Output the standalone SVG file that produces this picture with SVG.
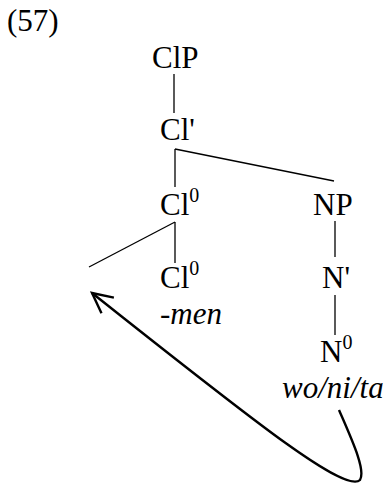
<svg xmlns="http://www.w3.org/2000/svg" width="386" height="485" viewBox="0 0 386 485">
<style>
text{font-family:'Liberation Serif','Times New Roman',serif;font-size:31px;fill:#000}
.it{font-style:italic}
.sup{font-size:20px}
.e{stroke:#000;stroke-width:1.3;fill:none}
</style>
<defs>
<marker id="ah" markerWidth="26" markerHeight="26" refX="22" refY="12" orient="auto" markerUnits="userSpaceOnUse">
<path d="M2,2 L22,12 L2,22" fill="none" stroke="#000" stroke-width="2.4"/>
</marker>
</defs>
<rect width="386" height="485" fill="#fff"/>
<text x="7" y="31">(57)</text>
<g id="n-clp"><text x="152" y="68">ClP</text></g>
<g id="n-clbar"><text x="160" y="140">Cl'</text></g>
<g id="n-cl0a"><text x="160" y="215">Cl<tspan class="sup" dy="-13">0</tspan></text></g>
<g id="n-np"><text x="313" y="215">NP</text></g>
<g id="n-cl0b"><text x="160" y="288">Cl<tspan class="sup" dy="-13">0</tspan></text><text class="it" x="160" y="324">-men</text></g>
<g id="n-nbar"><text x="322" y="288">N'</text></g>
<g id="n-n0"><text x="320" y="362">N<tspan class="sup" dy="-13">0</tspan></text><text class="it" x="282" y="398">wo/ni/ta</text></g>
<g id="connectors">
<line class="e" x1="174" y1="74" x2="174" y2="113"/>
<line class="e" x1="175" y1="149" x2="334" y2="181"/>
<line class="e" x1="175" y1="149" x2="175" y2="187"/>
<line class="e" x1="335" y1="221" x2="335" y2="257"/>
<line class="e" x1="175" y1="222" x2="175" y2="263"/>
<line class="e" x1="175" y1="222" x2="89" y2="267"/>
<line class="e" x1="335" y1="295" x2="335" y2="335"/>
<path d="M339,410 C352,440 366,470 360,480 C345,495 240,410 92,293" fill="none" stroke="#000" stroke-width="2.4" marker-end="url(#ah)"/>
</g>
</svg>
